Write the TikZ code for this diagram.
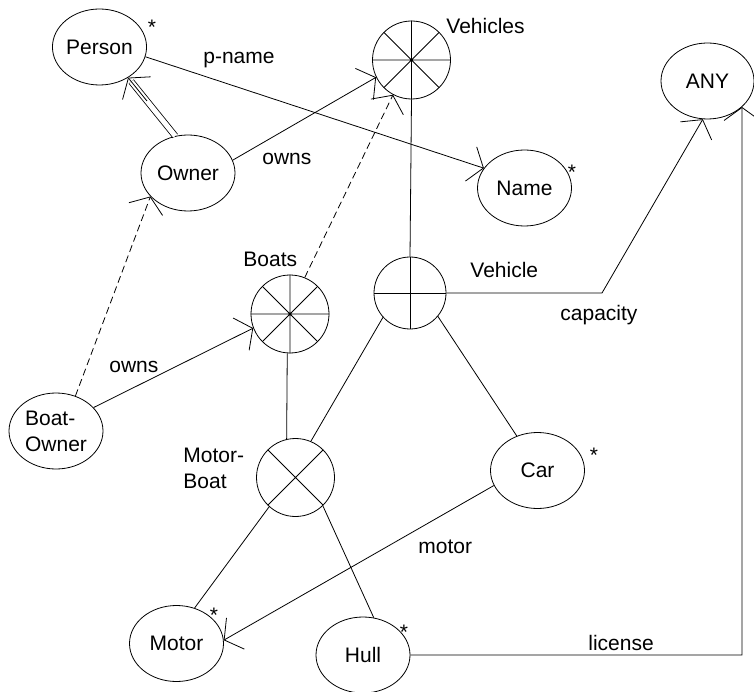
\documentclass[tikz,border=0pt]{standalone}
\usepackage{fontspec}
\setmainfont{Liberation Sans}
\usetikzlibrary{shapes.geometric,arrows.meta,calc}
\begin{document}
\begin{tikzpicture}[x=1pt,y=-1pt,
  font=\fontsize{21}{26}\selectfont,
  line width=0.8pt,
  ent/.style={draw, ellipse, minimum width=94pt, minimum height=76pt, inner sep=0pt},
  circ/.style={draw, circle, minimum size=78pt, inner sep=0pt},
  arr/.style={-{Straight Barb[length=13pt,width=36pt]}},
  dsh/.style={dash pattern=on 7pt off 4pt},
  lbl/.style={anchor=base west, inner sep=0pt},
  starl/.style={anchor=base, inner sep=0pt},
]
\useasboundingbox (0,0) rectangle (754,692);
% entity nodes
\node[ent] (Person) at (99.5,47) {Person};
\node[ent] (Owner) at (188,173) {Owner};
\node[ent] (Name) at (524.5,188) {Name};
\node[ent, minimum width=93pt] (ANY) at (707.5,81) {ANY};
\node[ent, align=left] (BoatOwner) at (56,431) {Boat-\\Owner};
\node[ent] (Car) at (537.5,470.5) {Car};
\node[ent] (Motor) at (176.5,643.5) {Motor};
\node[ent] (Hull) at (363,655) {Hull};
% circle nodes
\node[circ] (Vehicles) at (411.5,60) {};
\node[circ] (Boats) at (290,314) {};
\node[circ, minimum size=72pt] (Vehicle) at (410,293) {};
\node[circ] (MotorBoat) at (295.5,477.5) {};
% spokes
\draw (Vehicles.north) -- (Vehicles.south) (Vehicles.east) -- (Vehicles.west)
      (Vehicles.45) -- (Vehicles.225) (Vehicles.135) -- (Vehicles.315);
\draw (Boats.north) -- (Boats.south) (Boats.east) -- (Boats.west)
      (Boats.45) -- (Boats.225) (Boats.135) -- (Boats.315);
\draw (Vehicle.north) -- (Vehicle.south) (Vehicle.east) -- (Vehicle.west);
\draw (MotorBoat.45) -- (MotorBoat.225) (MotorBoat.135) -- (MotorBoat.315);
% stars
\node[starl] (sPerson) at (152,35) {*};
\node[starl] (sName) at (572,180) {*};
\node[starl] (sCar) at (594,462) {*};
\node[starl] (sMotor) at (214,622) {*};
\node[starl] (sHull) at (404,639) {*};
% labels
\node[lbl] (lPname) at (203,64) {p-name};
\node[lbl] (lOwns1) at (262,165) {owns};
\node[lbl] (lVehicles) at (446,34) {Vehicles};
\node[lbl] (lBoats) at (243,267) {Boats};
\node[lbl] (lVehicle) at (470,278) {Vehicle};
\node[lbl] (lCapacity) at (560,320) {capacity};
\node[lbl] (lOwns2) at (109,372) {owns};
\node[anchor=north west, inner sep=0pt, align=left] (lMotorBoat) at (183,448) {Motor-\\Boat};
\node[lbl] (lMotor) at (418,553) {motor};
\node[lbl] (lLicense) at (588,650) {license};
% coordinates for bends
\coordinate (c1) at (602,293);
\coordinate (c2) at (742,655);
% connectors
\draw[arr] (Person.348) -- (Name.154);
\draw[double, double distance=5pt, shorten >=5pt] (Owner.109) -- (Person.313);
\draw[arr] ($(Owner.109)!0.6!(Person.313)$) -- (Person.313);
\draw[arr] (Owner.16) -- (Vehicles.206);
\draw[arr, dsh] (Boats.68) -- (Vehicles.242);
\draw[arr, dsh] (BoatOwner.61) -- (Owner.212);
\draw[arr] (BoatOwner.32) -- (Boats.201);
\draw (Vehicles.south) -- (Vehicle.north);
\draw[arr] (Vehicle.east) -- (c1) -- (ANY.263);
\draw[arr] (Hull.east) -- (c2) -- (ANY.323);
\draw (Vehicle.222) -- (MotorBoat.67);
\draw (Vehicle.320) -- (Car.121);
\draw (Boats.266) -- (MotorBoat.103);
\draw (MotorBoat.228) -- (Motor.63);
\draw (MotorBoat.314) -- (Hull.74);
\draw[arr] (Car.199) -- (Motor.4);
\end{tikzpicture}
\end{document}
